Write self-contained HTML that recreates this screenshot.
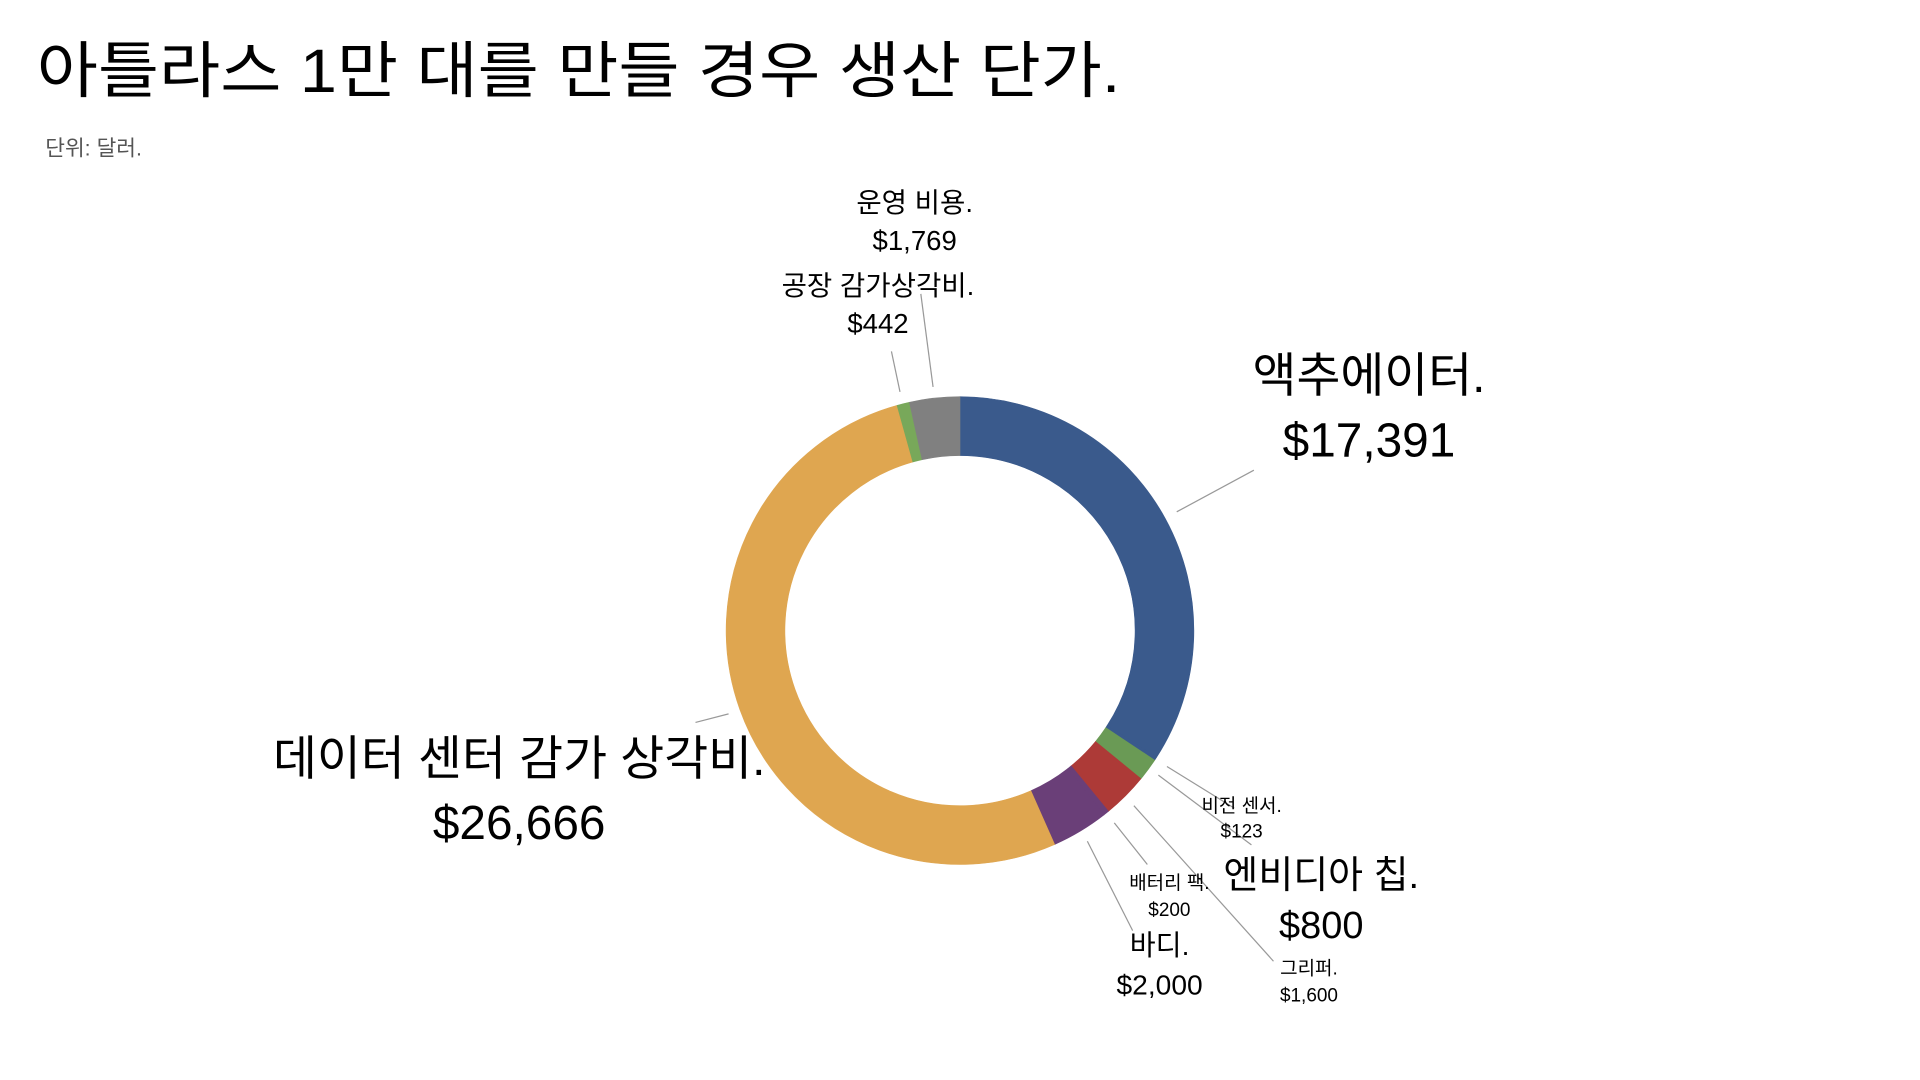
<!DOCTYPE html>
<html><head><meta charset="utf-8"><style>
html,body{margin:0;padding:0;background:#fff;}
svg{display:block;}
text{font-family:"Liberation Sans","Noto Sans CJK KR",sans-serif;fill:#000;}
</style></head><body>
<svg id="s" width="1920" height="1080" viewBox="0 0 1568 882" xmlns="http://www.w3.org/2000/svg">
<text x="30" y="75" font-size="50" textLength="885" lengthAdjust="spacingAndGlyphs">아틀라스 1만 대를 만들 경우 생산 단가.</text>
<text x="37" y="127" font-size="17.5" style="fill:#555">단위: 달러.</text>
<g id="ring"></g>
<g stroke="#999" stroke-width="1" fill="none">
<line x1="961" y1="418" x2="1024" y2="384"/>
<line x1="568" y1="590" x2="595" y2="583"/>
<line x1="735" y1="320" x2="728" y2="287"/>
<line x1="762" y1="316" x2="752" y2="240"/>
<line x1="953" y1="626" x2="1008" y2="660"/>
<line x1="946" y1="633" x2="1022" y2="690"/>
<line x1="926" y1="658" x2="1040" y2="785"/>
<line x1="910" y1="672" x2="937" y2="706"/>
<line x1="888" y1="687" x2="925" y2="760"/>
</g>
<g text-anchor="middle">
<text x="747" y="173" font-size="22.5">운영 비용.</text>
<text x="747" y="204" font-size="22.5">$1,769</text>
<text x="717" y="241" font-size="22.5">공장 감가상각비.</text>
<text x="717" y="272" font-size="22.5">$442</text>
<text x="1118" y="320" font-size="39">액추에이터.</text>
<text x="1118" y="373" font-size="39">$17,391</text>
<text x="424" y="633" font-size="39">데이터 센터 감가 상각비.</text>
<text x="424" y="685" font-size="39">$26,666</text>
<text x="1014" y="663" font-size="15.5">비전 센서.</text>
<text x="1014" y="684" font-size="15.5">$123</text>
<text x="1079" y="725" font-size="31">엔비디아 칩.</text>
<text x="1079" y="766" font-size="31">$800</text>
<text x="955" y="726" font-size="15.5">배터리 팩.</text>
<text x="955" y="748" font-size="15.5">$200</text>
<text x="947" y="780" font-size="23">바디.</text>
<text x="947" y="812" font-size="23">$2,000</text>
<text x="1069" y="796" font-size="15.5">그리퍼.</text>
<text x="1069" y="818" font-size="15.5">$1,600</text>
</g>
</svg>
<script>
var d=[[17391,"#3a5a8c"],[123,"#3a5a8c"],[800,"#6a9a55"],[1600,"#ad3a37"],[200,"#6a3f78"],[2000,"#6a3f78"],[26666,"#dfa650"],[442,"#78a85a"],[1769,"#808080"]];
var tot=0;d.forEach(function(x){tot+=x[0];});
var cx=784,cy=515,R=191,r=143,a=0,g=document.getElementById("ring"),h="";
function p(ang,rad){return [cx+rad*Math.sin(ang),cy-rad*Math.cos(ang)];}
d.forEach(function(x){var b=a+x[0]/tot*2*Math.PI;var l=(b-a)>Math.PI?1:0;
var p1=p(a,R),p2=p(b,R),p3=p(b,r),p4=p(a,r);
h+='<path fill="'+x[1]+'" stroke="'+x[1]+'" stroke-width="0.5" d="M'+p1+' A'+R+' '+R+' 0 '+l+' 1 '+p2+' L'+p3+' A'+r+' '+r+' 0 '+l+' 0 '+p4+' Z"/>';a=b;});
g.innerHTML=h;
</script>
</body></html>
